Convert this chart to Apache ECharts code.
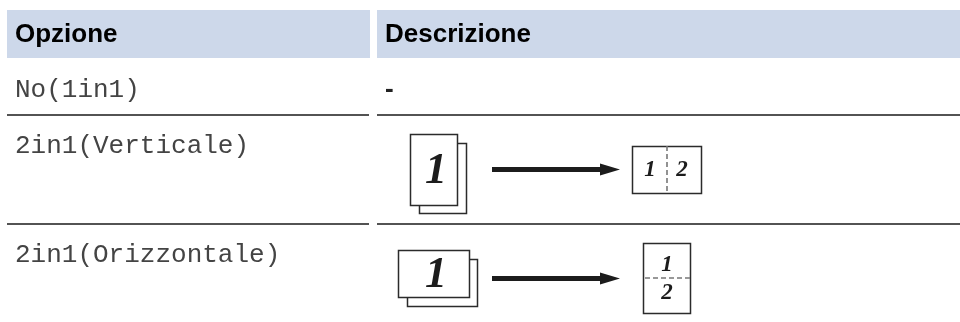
<!DOCTYPE html>
<html><head><meta charset="utf-8">
<style>html,body{margin:0;padding:0;background:#fff}#c{width:960px;height:322px}</style>
<script src="https://cdn.jsdelivr.net/npm/echarts@6/dist/echarts.min.js"></script>
</head><body><div id="c"></div>
<script>
const headers = ["Opzione", "Descrizione"];
const options = ["No(1in1)", "2in1(Verticale)", "2in1(Orizzontale)"];
const emptyCell = "-";
const pageDigits = ["1", "2"];

const INK = "#2b2b2b", HEAD = "#cdd8ea";
const g = [];
const rect = (x, y, w, h, fill, stroke, lw) => g.push({type:"rect", shape:{x, y, width:w, height:h}, style:{fill, stroke:stroke||null, lineWidth:lw||0}, silent:true});
const line = (x1, y1, x2, y2, stroke, lw, dash) => g.push({type:"line", shape:{x1, y1, x2, y2}, style:{stroke, lineWidth:lw, lineDash:dash||null}, silent:true});
const text = (t, x, y, font, fill, align) => g.push({type:"text", x, y, style:{text:t, font, fill, textAlign:align||"left", textVerticalAlign:"middle"}, silent:true});
const SANS = "bold 26px 'Liberation Sans'", MONO = "26px 'Liberation Mono'";
const digit = (t, x, y, size) => text(t, x, y, "italic bold " + size + "px 'Liberation Serif'", "#1c1c1c", "center");

rect(7, 10, 363, 48, HEAD);
rect(377, 10, 583, 48, HEAD);
text(headers[0], 15, 35, SANS, "#000");
text(headers[1], 385, 35, SANS, "#000");
line(7, 115, 369, 115, "#1a1a1a", 1.5);
line(377, 115, 960, 115, "#1a1a1a", 1.5);
line(7, 224, 369, 224, "#1a1a1a", 1.5);
line(377, 224, 960, 224, "#1a1a1a", 1.5);
text(options[0], 15, 90, MONO, "#444");
text(options[1], 15, 146, MONO, "#444");
text(options[2], 15, 255, MONO, "#444");
text(emptyCell, 385, 90, SANS, "#222");

function arrow(y) {
  g.push({type:"polygon", shape:{points:[[492,y-2.5],[600,y-2.5],[600,y-6],[620,y],[600,y+6],[600,y+2.5],[492,y+2.5]]}, style:{fill:"#1c1c1c"}, silent:true});
}
// row 2 : portrait
rect(419.5, 143.5, 47, 70, "#fff", INK, 1.5);
rect(410.5, 134.5, 47, 71, "#fff", INK, 1.5);
digit(pageDigits[0], 436, 172, 44);
arrow(169.5);
rect(632.5, 146.5, 69, 47, "#fff", INK, 1.5);
line(667, 146, 667, 194, "#777", 1.6, [5, 3]);
digit(pageDigits[0], 650, 170, 23);
digit(pageDigits[1], 682, 170, 23);
// row 3 : landscape
rect(407.5, 259.5, 70, 47, "#fff", INK, 1.5);
rect(398.5, 250.5, 71, 47, "#fff", INK, 1.5);
digit(pageDigits[0], 436, 276, 44);
arrow(278.5);
rect(643.5, 243.5, 47, 70, "#fff", INK, 1.5);
line(645, 278, 690, 278, "#777", 1.6, [5, 3]);
digit(pageDigits[0], 667, 265, 23);
digit(pageDigits[1], 667, 293, 23);

const chart = echarts.init(document.getElementById("c"), null, {renderer:"canvas"});
chart.setOption({animation:false, backgroundColor:"#fff", graphic:{elements:g}});
</script></body></html>
